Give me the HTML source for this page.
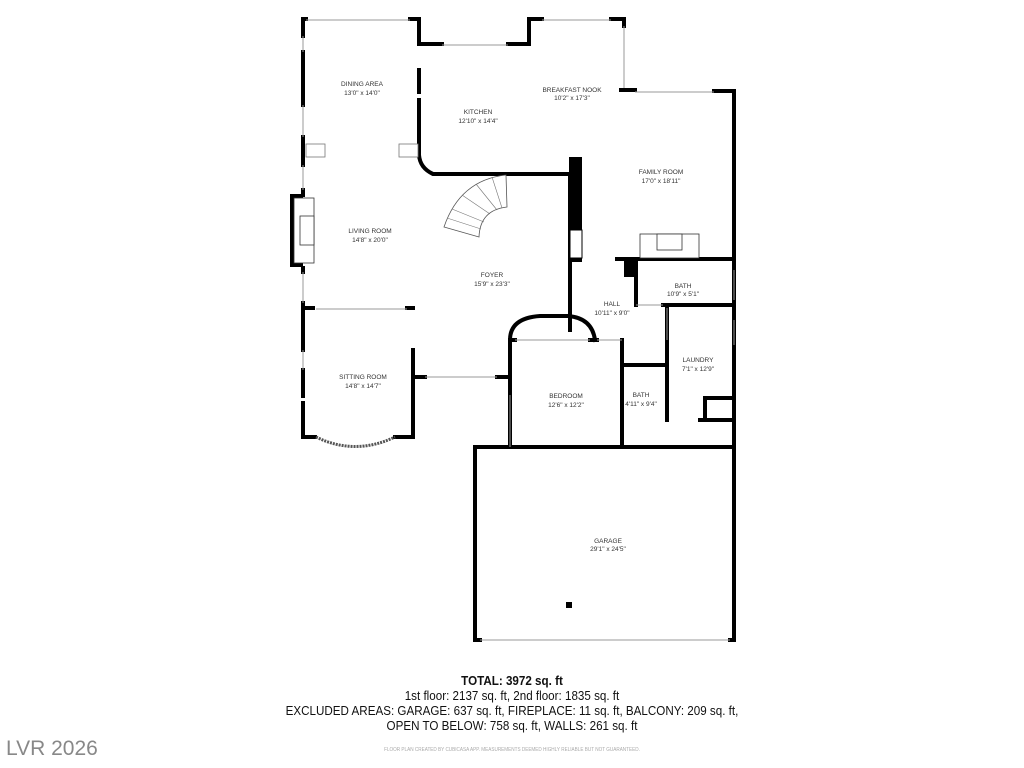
<!DOCTYPE html>
<html><head><meta charset="utf-8"><style>
body{margin:0;background:#fff;width:1024px;height:768px;overflow:hidden;position:relative;font-family:"Liberation Sans",sans-serif}
svg{position:absolute;left:0;top:0}
.t{font-size:6.5px;fill:#333;text-anchor:middle;font-family:"Liberation Sans",sans-serif}
.bt{position:absolute;left:0;width:1024px;text-align:center;color:#111;font-size:12.5px;line-height:15px;font-family:"Liberation Sans",sans-serif;transform:scaleX(0.93);transform-origin:512px 0}
</style></head><body>
<svg width="1024" height="768" viewBox="0 0 1024 768">
<g fill="none" stroke="#000" stroke-width="4" stroke-linecap="square">
<path d="M303 19 V36 M303 52 V105 M303 137 V165 M303 190 V195 M303 268 V272 M303 303 V350 M303 370 V396 M303 403 V437"/>
<path d="M303 19 H306 M410 19 H419 V44"/>
<path d="M419 44 H442 M508 44 H529 V19 H542 M611 19 H624 V26"/>
<path d="M621 90 H635 M714 91 H734 V640"/>
<path d="M419 70 V92 M419 100 V155 Q420 168 433 174 H570"/>
<path d="M570 174 V260 H580 M617 259 H734"/>
<path d="M636 259 V305 M570 260 V330 M570 270 V315"/>
<path d="M663 305 H734 M667 308 V420 M622 340 V447 M622 365 H667 M667 340 V365"/>
<path d="M510 340 V447 M510 340 H515 M510 340 Q510 318 540 316 H568 Q592 318 595 340 M590 340 H597"/>
<path d="M475 447 H734 M475 447 V640 M475 640 H480 M730 640 H734"/>
<path d="M413 350 V437 H395 M303 437 H315 M413 377 H425 M497 377 H510"/>
<path d="M705 398 H734 M705 398 V420 M700 420 H734"/>
<path d="M303 308 H313 M407 308 H413"/>
</g>
<g fill="none" stroke="#999" stroke-width="1">
<path d="M306 20 H410 M442 45 H508 M542 20 H611 M624 26 V88 M635 92 H714 M303 36 V52 M303 105 V137 M303 165 V190 M303 272 V303 M303 350 V370 M316 309 H407 M425 377 H497 M510 395 V447 M734 270 V300 M734 320 V345 M480 640 H730 M667 308 V340 M636 305 H663 M515 340 H590 M597 340 H622"/>
<path d="M316 437 Q355 456 395 437" stroke="#555" stroke-width="3" stroke-dasharray="2 1"/>
</g>
<rect x="569" y="157" width="13" height="73" fill="#000"/>
<rect x="570" y="230" width="12" height="28" fill="#fff" stroke="#000" stroke-width="1"/>
<rect x="624" y="259" width="12" height="18" fill="#000"/>
<rect x="290" y="194" width="13" height="73" fill="#000"/>
<rect x="294" y="198" width="20" height="65" fill="#fff" stroke="#333" stroke-width="0.8"/>
<rect x="300" y="216" width="14" height="29" fill="#fff" stroke="#333" stroke-width="0.8"/>
<rect x="640" y="234" width="59" height="24" fill="#fff" stroke="#333" stroke-width="0.8"/>
<rect x="657" y="234" width="25" height="16" fill="#fff" stroke="#333" stroke-width="0.8"/>
<rect x="306" y="144" width="19" height="13" fill="#fff" stroke="#777" stroke-width="0.8"/>
<rect x="399" y="144" width="19" height="13" fill="#fff" stroke="#777" stroke-width="0.8"/>
<path d="M444 227 Q460 180 506 175 L507 207 Q480 210 479 237 Z" fill="#fff" stroke="#555" stroke-width="0.8"/>
<path d="M452 209 L484 222 M462 195 L490 214 M476 184 L497 210 M492 177 L502 208 M447 218 L481 229" stroke="#777" stroke-width="0.6"/>
<rect x="566" y="602" width="6" height="6" fill="#000"/>
<text class="t" x="362" y="86">DINING AREA</text><text class="t" x="362" y="95">13'0" x 14'0"</text>
<text class="t" x="478" y="114">KITCHEN</text><text class="t" x="478" y="123">12'10" x 14'4"</text>
<text class="t" x="572" y="92">BREAKFAST NOOK</text><text class="t" x="572" y="100">10'2" x 17'3"</text>
<text class="t" x="661" y="174">FAMILY ROOM</text><text class="t" x="661" y="183">17'0" x 18'11"</text>
<text class="t" x="370" y="233">LIVING ROOM</text><text class="t" x="370" y="242">14'8" x 20'0"</text>
<text class="t" x="492" y="277">FOYER</text><text class="t" x="492" y="286">15'9" x 23'3"</text>
<text class="t" x="683" y="288">BATH</text><text class="t" x="683" y="296">10'9" x 5'1"</text>
<text class="t" x="612" y="306">HALL</text><text class="t" x="612" y="315">10'11" x 9'0"</text>
<text class="t" x="698" y="362">LAUNDRY</text><text class="t" x="698" y="371">7'1" x 12'9"</text>
<text class="t" x="363" y="379">SITTING ROOM</text><text class="t" x="363" y="388">14'8" x 14'7"</text>
<text class="t" x="566" y="398">BEDROOM</text><text class="t" x="566" y="407">12'6" x 12'2"</text>
<text class="t" x="641" y="397">BATH</text><text class="t" x="641" y="406">4'11" x 9'4"</text>
<text class="t" x="608" y="543">GARAGE</text><text class="t" x="608" y="551">29'1" x 24'5"</text>
</svg>
<div class="bt" style="top:674px;font-weight:bold">TOTAL: 3972 sq. ft</div>
<div class="bt" style="top:689px">1st floor: 2137 sq. ft, 2nd floor: 1835 sq. ft</div>
<div class="bt" style="top:704px">EXCLUDED AREAS: GARAGE: 637 sq. ft, FIREPLACE: 11 sq. ft, BALCONY: 209 sq. ft,</div>
<div class="bt" style="top:719px">OPEN TO BELOW: 758 sq. ft, WALLS: 261 sq. ft</div>
<div class="bt" style="top:743px;font-size:5px;color:#aaa">FLOOR PLAN CREATED BY CUBICASA APP. MEASUREMENTS DEEMED HIGHLY RELIABLE BUT NOT GUARANTEED.</div>
<div style="position:absolute;left:6px;top:737px;font-size:21px;color:#888;font-family:'Liberation Sans',sans-serif">LVR 2026</div>
</body></html>
